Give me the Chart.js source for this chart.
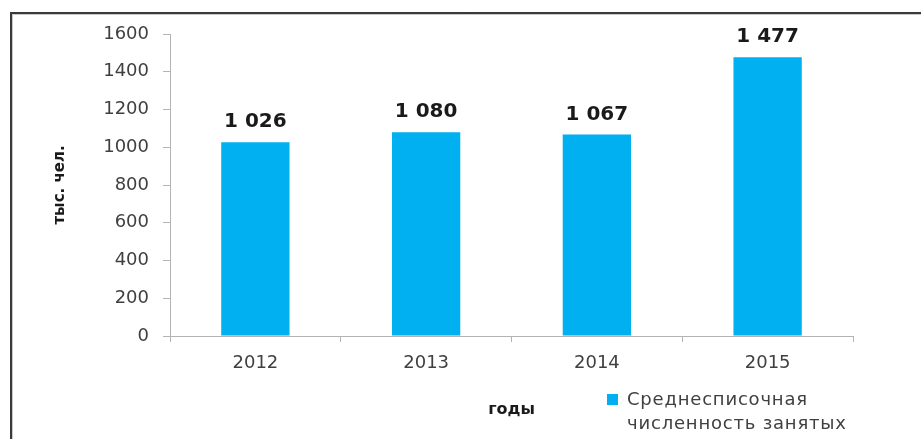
<!DOCTYPE html>
<html lang="ru">
<head>
    <meta charset="UTF-8">
    <title>Среднесписочная численность занятых</title>
    <style>
        html, body {
            margin: 0;
            padding: 0;
            background: #ffffff;
        }
        #chartContainer {
            width: 921px;
            height: 439px;
        }
    </style>
</head>
<body>

<div id="chartContainer">
    <canvas id="myChart"></canvas>
</div>

<script src="https://cdn.jsdelivr.net/npm/chart.js"></script>
<script>
    // данные
    const years = ['2012', '2013', '2014', '2015'];
    const employed = [1026, 1080, 1067, 1477];
    const seriesName = ['Среднесписочная', 'численность занятых'];
    const yTitle = 'тыс. чел.';
    const xTitle = 'годы';

    const barColor = '#00b0f0';
    const axisColor = '#b3b3b3';
    const textColor = '#404040';
    const fontFamily = '"DejaVu Sans", Verdana, sans-serif';

    function formatNumber(v) {
        return String(v).replace(/\B(?=(\d{3})+(?!\d))/g, ' ');
    }

    // рамка слева и сверху
    const framePlugin = {
        id: 'frame',
        beforeDraw(chart) {
            const ctx = chart.ctx;
            ctx.save();
            ctx.strokeStyle = '#3a3a3a';
            ctx.lineWidth = 2;
            ctx.beginPath();
            ctx.moveTo(11, chart.height);
            ctx.lineTo(11, 13);
            ctx.lineTo(chart.width, 13);
            ctx.stroke();
            ctx.strokeStyle = '#c8c8c8';
            ctx.lineWidth = 1;
            ctx.beginPath();
            ctx.moveTo(12.5, chart.height);
            ctx.lineTo(12.5, 14.5);
            ctx.lineTo(chart.width, 14.5);
            ctx.stroke();
            ctx.restore();
        }
    };

    // подписи значений над столбцами
    const valueLabels = {
        id: 'valueLabels',
        afterDatasetsDraw(chart) {
            const ctx = chart.ctx;
            const meta = chart.getDatasetMeta(0);
            ctx.save();
            ctx.font = 'bold 20px ' + fontFamily;
            ctx.fillStyle = '#1a1a1a';
            ctx.textAlign = 'center';
            ctx.textBaseline = 'alphabetic';
            meta.data.forEach((bar, i) => {
                ctx.fillText(formatNumber(chart.data.datasets[0].data[i]), bar.x, bar.y - 15);
            });
            ctx.restore();
        }
    };

    // легенда справа внизу, в две строки
    const sideLegend = {
        id: 'sideLegend',
        afterDraw(chart) {
            const ctx = chart.ctx;
            const ds = chart.data.datasets[0];
            ctx.save();
            ctx.fillStyle = ds.backgroundColor;
            ctx.fillRect(607, 394, 11, 11);
            ctx.font = '18px ' + fontFamily;
            ctx.letterSpacing = '0.8px';
            ctx.fillStyle = textColor;
            ctx.textAlign = 'left';
            ctx.textBaseline = 'middle';
            ds.label.forEach((line, i) => {
                ctx.fillText(line, 627, 400 + i * 24);
            });
            ctx.restore();
        }
    };

    const ctx = document.getElementById('myChart').getContext('2d');

    const myChart = new Chart(ctx, {
        type: 'bar',
        data: {
            labels: years,
            datasets: [{
                label: seriesName,
                data: employed,
                backgroundColor: barColor,
                borderWidth: 0,
                barPercentage: 0.8,
                categoryPercentage: 0.5
            }]
        },
        options: {
            responsive: true,
            maintainAspectRatio: false,
            animation: false,
            layout: {
                padding: { left: 0, top: 34, right: 68, bottom: 0 }
            },
            plugins: {
                legend: { display: false },
                tooltip: { enabled: false }
            },
            scales: {
                x: {
                    grid: {
                        display: true,
                        drawOnChartArea: false,
                        offset: true,
                        tickLength: 6,
                        color: axisColor
                    },
                    border: { color: axisColor, width: 1 },
                    ticks: {
                        color: textColor,
                        font: { family: fontFamily, size: 18 },
                        padding: 11
                    },
                    title: {
                        display: true,
                        text: xTitle,
                        color: '#1a1a1a',
                        font: { family: fontFamily, size: 16, weight: 'bold' },
                        padding: { top: 0, bottom: 20 }
                    },
                    afterFit(scale) {
                        scale.height = 103;
                    }
                },
                y: {
                    min: 0,
                    max: 1600,
                    ticks: {
                        stepSize: 200,
                        color: textColor,
                        font: { family: fontFamily, size: 18 },
                        padding: 14,
                        callback: (v) => String(v)
                    },
                    grid: {
                        display: true,
                        drawOnChartArea: false,
                        tickLength: 7,
                        color: axisColor
                    },
                    border: { color: axisColor, width: 1 },
                    title: {
                        display: true,
                        text: yTitle,
                        color: '#1a1a1a',
                        font: { family: fontFamily, size: 15, weight: 'bold' },
                        padding: { top: 51, bottom: 0 }
                    },
                    afterFit(scale) {
                        scale.width = 170;
                    }
                }
            }
        },
        plugins: [framePlugin, valueLabels, sideLegend]
    });
</script>

</body>
</html>
